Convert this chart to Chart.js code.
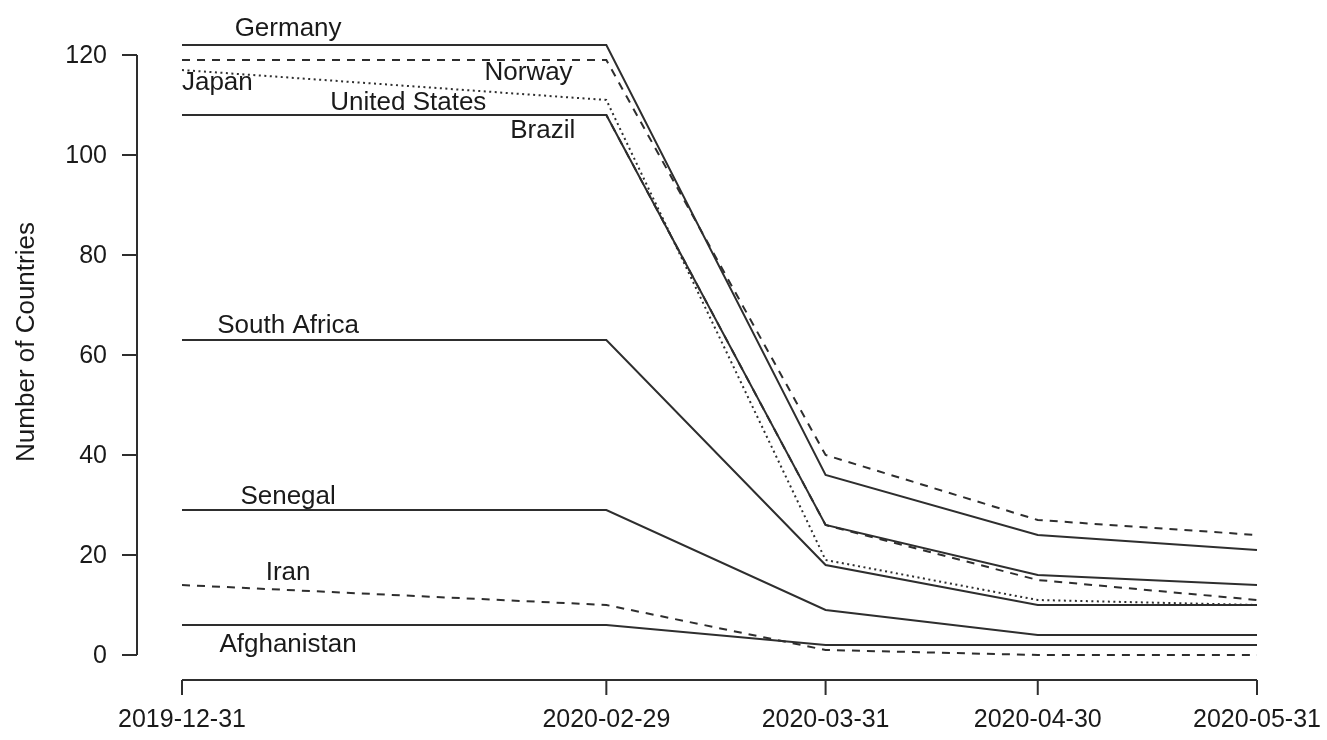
<!DOCTYPE html>
<html>
<head>
<meta charset="utf-8">
<title>Number of Countries</title>
<script src="https://cdn.jsdelivr.net/npm/chart.js@4/dist/chart.umd.min.js"></script>
<style>
  html, body { margin: 0; padding: 0; background: #ffffff; }
  canvas { display: block; }
</style>
</head>
<body>
<canvas id="chart" width="1327" height="740"></canvas>
<script>
// Observation dates (x tick labels)
const dates = ['2019-12-31', '2020-02-29', '2020-03-31', '2020-04-30', '2020-05-31'];

// Number of countries per series at each date
const germany      = [122, 122, 36, 24, 21];
const norway       = [119, 119, 40, 27, 24];
const japan        = [117, 111, 19, 11, 10];
const unitedStates = [108, 108, 26, 15, 11];
const brazil       = [108, 108, 26, 16, 14];
const southAfrica  = [63, 63, 18, 10, 10];
const senegal      = [29, 29, 9, 4, 4];
const iran         = [14, 10, 1, 0, 0];
const afghanistan  = [6, 6, 2, 2, 2];

// Y axis ticks
const yTicks = [0, 20, 40, 60, 80, 100, 120];

// Where each country's name is written (days after first date, value)
const labelNames = ['Germany', 'Norway', 'Japan', 'United States', 'Brazil',
                    'South Africa', 'Senegal', 'Iran', 'Afghanistan'];
const labelDays   = [15, 49, 5, 32, 51, 15, 15, 15, 15];
const labelValues = [125.2, 116.4, 114.4, 110.4, 104.8, 65.8, 31.6, 16.4, 2];

// Convert the date strings to day offsets for a linear x scale
const DAY = 24 * 3600 * 1000;
const t0 = Date.parse(dates[0] + 'T00:00:00Z');
const days = dates.map(d => Math.round((Date.parse(d + 'T00:00:00Z') - t0) / DAY));

const LINE = '#2e2e2e';
const FONT = '"Liberation Sans", Arial, Helvetica, sans-serif';

function series(label, values, dash) {
  return {
    label: label,
    data: values.map((v, i) => ({ x: days[i], y: v })),
    borderColor: LINE,
    borderWidth: 2,
    borderDash: dash,
    pointRadius: 0,
    pointHoverRadius: 0,
    tension: 0,
    fill: false,
    clip: false
  };
}

const SOLID = [];
const DASHED = [8, 7];
const DOTTED = [2, 3.5];

// R-style detached axes plus the inline country names
const baseGraphics = {
  id: 'baseGraphics',
  afterDraw(chart) {
    const ctx = chart.ctx;
    const xs = chart.scales.x, ys = chart.scales.y;
    ctx.save();
    ctx.strokeStyle = LINE;
    ctx.fillStyle = '#1a1a1a';
    ctx.lineWidth = 2;
    ctx.setLineDash([]);

    // y axis
    const ax = xs.left - 45;
    ctx.beginPath();
    ctx.moveTo(ax, ys.getPixelForValue(yTicks[0]));
    ctx.lineTo(ax, ys.getPixelForValue(yTicks[yTicks.length - 1]));
    ctx.stroke();
    ctx.font = '25px ' + FONT;
    ctx.textAlign = 'right';
    ctx.textBaseline = 'middle';
    yTicks.forEach(v => {
      const py = ys.getPixelForValue(v);
      ctx.beginPath();
      ctx.moveTo(ax, py);
      ctx.lineTo(ax - 15, py);
      ctx.stroke();
      ctx.fillText(String(v), ax - 30, py + 1);
    });

    // x axis
    const ay = ys.bottom + 25;
    ctx.beginPath();
    ctx.moveTo(xs.getPixelForValue(days[0]), ay);
    ctx.lineTo(xs.getPixelForValue(days[days.length - 1]), ay);
    ctx.stroke();
    ctx.textAlign = 'center';
    dates.forEach((d, i) => {
      const px = xs.getPixelForValue(days[i]);
      ctx.beginPath();
      ctx.moveTo(px, ay);
      ctx.lineTo(px, ay + 15);
      ctx.stroke();
      ctx.fillText(d, px, ay + 40);
    });

    // y axis title
    ctx.font = '26px ' + FONT;
    ctx.save();
    ctx.translate(27, (ys.top + ys.bottom) / 2 - 13);
    ctx.rotate(-Math.PI / 2);
    ctx.fillText('Number of Countries', 0, 0);
    ctx.restore();

    // country names
    labelNames.forEach((name, i) => {
      ctx.fillText(name, xs.getPixelForValue(labelDays[i]), ys.getPixelForValue(labelValues[i]));
    });
    ctx.restore();
  }
};

new Chart(document.getElementById('chart'), {
  type: 'line',
  data: {
    datasets: [
      series('Germany', germany, SOLID),
      series('Norway', norway, DASHED),
      series('Japan', japan, DOTTED),
      series('United States', unitedStates, DASHED),
      series('Brazil', brazil, SOLID),
      series('South Africa', southAfrica, SOLID),
      series('Senegal', senegal, SOLID),
      series('Iran', iran, DASHED),
      series('Afghanistan', afghanistan, SOLID)
    ]
  },
  options: {
    responsive: false,
    animation: false,
    events: [],
    layout: { padding: { left: 182, right: 70, top: 55, bottom: 85 } },
    plugins: { legend: { display: false }, tooltip: { enabled: false } },
    scales: {
      x: { type: 'linear', display: false, min: days[0], max: days[days.length - 1] },
      y: { type: 'linear', display: false, min: 0, max: 120 }
    }
  },
  plugins: [baseGraphics]
});
</script>
</body>
</html>
